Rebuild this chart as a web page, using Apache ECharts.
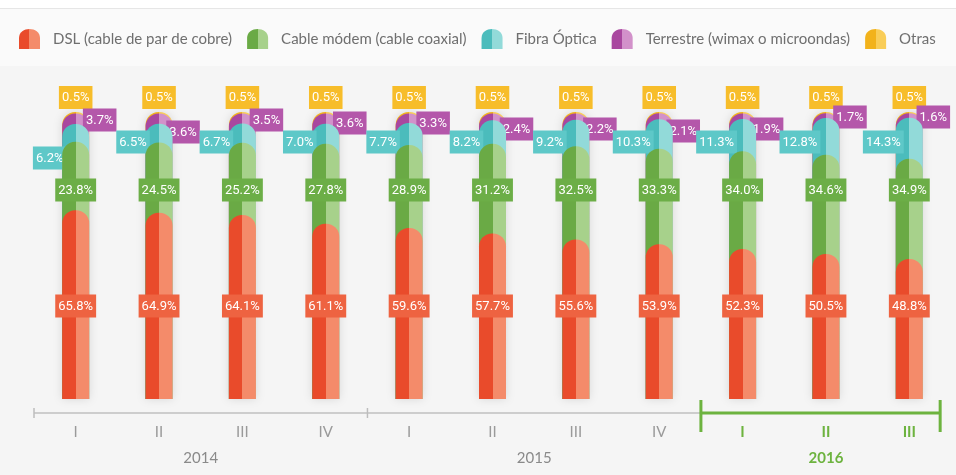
<!DOCTYPE html>
<html>
<head>
<meta charset="utf-8">
<script src="https://cdn.jsdelivr.net/npm/echarts@6/dist/echarts.min.js"></script>
<style>
  html, body { margin: 0; padding: 0; background: #f5f5f5; }
  #chart_bars { width: 956px; height: 475px; }
</style>
</head>
<body>
<div id="chart_bars"></div>
<script>
// quarters and years
const quarters = ['I', 'II', 'III', 'IV', 'I', 'II', 'III', 'IV', 'I', 'II', 'III']
const years = ['2014', '2015', '2016']
const yearCenters = [2, 6, 9.5]

// share of each technology (%)
const dsl = [65.8, 64.9, 64.1, 61.1, 59.6, 57.7, 55.6, 53.9, 52.3, 50.5, 48.8]
const cable = [23.8, 24.5, 25.2, 27.8, 28.9, 31.2, 32.5, 33.3, 34.0, 34.6, 34.9]
const fibra = [6.2, 6.5, 6.7, 7.0, 7.7, 8.2, 9.2, 10.3, 11.3, 12.8, 14.3]
const terrestre = [3.7, 3.6, 3.5, 3.6, 3.3, 2.4, 2.2, 2.1, 1.9, 1.7, 1.6]
const otras = [0.5, 0.5, 0.5, 0.5, 0.5, 0.5, 0.5, 0.5, 0.5, 0.5, 0.5]

const names = [
  'DSL (cable de par de cobre)',
  'Cable módem (cable coaxial)',
  'Fibra Óptica',
  'Terrestre (wimax o microondas)',
  'Otras'
]
const values = [dsl, cable, fibra, terrestre, otras]

// dark / light halves of every bar, colour of the value box
const colors = [
  { dark: '#e94b2b', light: '#f48b6a', box: '#ee6341' },
  { dark: '#6aaa45', light: '#a7d18b', box: '#6cae47' },
  { dark: '#4bbcbc', light: '#92dad9', box: '#5ec8c8' },
  { dark: '#a9479f', light: '#d291ca', box: '#b457aa' },
  { dark: '#f2b21b', light: '#f9cd58', box: '#f7bd2a' }
]

const bottomPx = 399
const font = 'Liberation Sans Narrow, Roboto, sans-serif'
// vertical centre (px) of the value boxes, hand placed as in the original
const boxY = {
  0: () => 306,
  1: () => 190,
  2: i => (i === 0 ? 158 : 142),
  3: i => [120, 132, 120, 123, 123, 129, 129, 131, 129, 117, 117][i]
}
const boxX = [0, 0, -26, 24, 0]

function twoTone(c) {
  return new echarts.graphic.LinearGradient(0, 0, 1, 0, [
    { offset: 0, color: c.dark },
    { offset: 0.5, color: c.dark },
    { offset: 0.5, color: c.light },
    { offset: 1, color: c.light }
  ])
}

// cumulative tops: every segment is a bar from 0, drawn behind the one below it
function cumulative(k) {
  return quarters.map((q, i) => {
    let s = 0
    for (let j = 0; j <= k; j++) s += values[j][i]
    return +s.toFixed(1)
  })
}

const series = []
for (let k = names.length - 1; k >= 0; k--) {
  const cum = cumulative(k)
  series.push({
    name: names[k],
    type: 'bar',
    barWidth: 27,
    barGap: '-100%',
    z: 2 + (names.length - k),
    itemStyle: {
      color: twoTone(colors[k]),
      borderRadius: [13, 13, 0, 0],
      shadowBlur: k === 4 ? 10 : 0,
      shadowColor: 'rgba(0,0,0,0.13)'
    },
    label: {
      show: true,
      position: k === 4 ? 'top' : 'insideBottom',
      distance: 3,
      offset: [boxX[k], 0],
      color: '#fff',
      fontFamily: font,
      fontSize: 13,
      lineHeight: 14,
      padding: [5, 3, 4, 3],
      backgroundColor: colors[k].box,
      formatter: p => values[k][p.dataIndex].toFixed(1) + '%'
    },
    data: cum.map((v, i) => {
      if (k === 4) return v
      return { value: v, label: { distance: bottomPx - (boxY[k](i) + 11.5) } }
    })
  })
}

const chart = echarts.init(document.getElementById('chart_bars'))
chart.setOption({
  backgroundColor: '#f5f5f5',
  animation: false,
  legend: {
    data: names,
    left: 14,
    top: 24,
    itemWidth: 21,
    itemHeight: 20,
    itemGap: 15,
    icon: 'path://M0,9 C0,-3 21,-3 21,9 L21,20 L0,20 Z',
    textStyle: {
      fontFamily: 'Lato, sans-serif',
      fontSize: 15,
      color: '#6f6f6f',
      padding: [0, 0, 0, 8]
    }
  },
  grid: { left: 34, right: 5, top: 112, bottom: 76 },
  xAxis: [
    {
      type: 'category',
      data: quarters.map((q, i) =>
        i >= 8 ? { value: q, textStyle: { color: '#6db33f', fontWeight: 'bold' } } : q
      ),
      offset: 14,
      axisLine: { show: false },
      axisTick: { show: false },
      axisLabel: { margin: 12, color: '#9a9a9a', fontSize: 15, fontFamily: 'Lato, sans-serif' }
    },
    {
      type: 'value',
      min: 0,
      max: 11,
      position: 'bottom',
      offset: 14,
      axisLine: { show: false },
      axisTick: { show: false },
      splitLine: { show: false },
      axisLabel: {
        customValues: yearCenters,
        margin: 38,
        fontFamily: 'Lato, sans-serif',
        fontSize: 15,
        color: '#8a8a8a',
        formatter: v => {
          const y = years[yearCenters.indexOf(v)]
          return y === '2016' ? '{g|' + y + '}' : y
        },
        rich: { g: { color: '#6db33f', fontWeight: 'bold', fontSize: 15, fontFamily: 'Lato, sans-serif' } }
      }
    }
  ],
  yAxis: { type: 'value', min: 0, max: 100, show: false },
  series: series
})

// background bands and the year ruler under the quarters
const px = v => chart.convertToPixel({ xAxisIndex: 1 }, v)
const lineY = bottomPx + 14
chart.setOption({
  graphic: [
    { type: 'rect', z: -10, silent: true, shape: { x: 0, y: 0, width: 956, height: 8 }, style: { fill: '#ffffff' } },
    { type: 'rect', z: -10, silent: true, shape: { x: 0, y: 8, width: 956, height: 58 }, style: { fill: '#fafafa', stroke: null } },
    { type: 'line', z: -9, silent: true, shape: { x1: 0, y1: 8.5, x2: 956, y2: 8.5 }, style: { stroke: '#e6e6e6', lineWidth: 1 } },
    { type: 'line', silent: true, shape: { x1: px(0), y1: lineY, x2: px(8), y2: lineY }, style: { stroke: '#cdcdcd', lineWidth: 2 } },
    { type: 'line', silent: true, shape: { x1: px(0), y1: lineY - 5, x2: px(0), y2: lineY + 5 }, style: { stroke: '#bdbdbd', lineWidth: 1.5 } },
    { type: 'line', silent: true, shape: { x1: px(4), y1: lineY - 5, x2: px(4), y2: lineY + 5 }, style: { stroke: '#bdbdbd', lineWidth: 1.5 } },
    { type: 'line', silent: true, shape: { x1: px(8), y1: lineY, x2: px(10.87), y2: lineY }, style: { stroke: '#6db33f', lineWidth: 3 } },
    { type: 'line', silent: true, shape: { x1: px(8), y1: lineY - 13, x2: px(8), y2: lineY + 19 }, style: { stroke: '#6db33f', lineWidth: 3 } },
    { type: 'line', silent: true, shape: { x1: px(10.87), y1: lineY - 13, x2: px(10.87), y2: lineY + 19 }, style: { stroke: '#6db33f', lineWidth: 3 } }
  ]
})
</script>
</body>
</html>
